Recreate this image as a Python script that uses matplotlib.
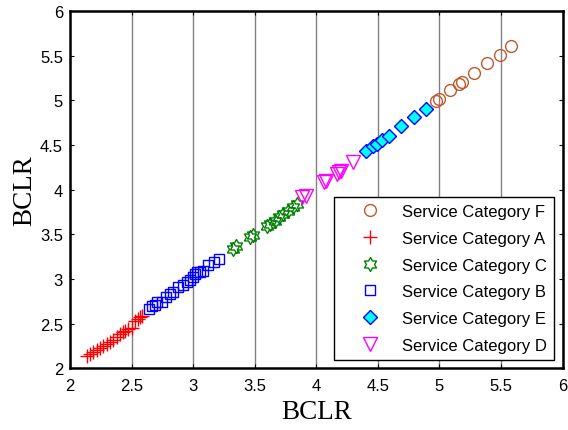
import matplotlib
matplotlib.use("Agg")
import matplotlib.pyplot as plt
import numpy as np
from matplotlib.path import Path

# ---- data ----
f_x = [4.976, 4.995, 5.09, 5.16, 5.187, 5.284, 5.39, 5.49, 5.585]
f_y = [4.997, 5.016, 5.116, 5.184, 5.209, 5.307, 5.419, 5.512, 5.606]

a_x = [2.135, 2.162, 2.189, 2.216, 2.243, 2.27, 2.298, 2.325, 2.351, 2.379,
       2.406, 2.433, 2.447, 2.474, 2.501, 2.528, 2.554, 2.568, 2.582]
a_y = [2.141, 2.16, 2.186, 2.208, 2.224, 2.253, 2.272, 2.291, 2.32, 2.347,
       2.384, 2.403, 2.421, 2.44, 2.448, 2.533, 2.552, 2.571, 2.589]

c_x = [3.321, 3.347, 3.461, 3.483, 3.596, 3.623, 3.664, 3.699, 3.731, 3.772, 3.812, 3.845]
c_y = [3.336, 3.366, 3.467, 3.493, 3.597, 3.616, 3.653, 3.691, 3.728, 3.765, 3.803, 3.84]

b_x = [2.644, 2.663, 2.69, 2.709, 2.744, 2.779, 2.812, 2.838, 2.879, 2.915,
       2.947, 2.974, 2.996, 3.015, 3.033, 3.055, 3.082, 3.122, 3.169, 3.212]
b_y = [2.664, 2.694, 2.709, 2.739, 2.746, 2.795, 2.832, 2.851, 2.907, 2.933,
       2.963, 2.992, 3.019, 3.056, 3.075, 3.082, 3.093, 3.157, 3.194, 3.224]

e_x = [4.408, 4.462, 4.494, 4.538, 4.592, 4.687, 4.792, 4.89]
e_y = [4.43, 4.486, 4.512, 4.557, 4.605, 4.717, 4.811, 4.904]

d_x = [3.881, 3.916, 4.062, 4.078, 4.165, 4.186, 4.205, 4.299]
d_y = [3.915, 3.926, 4.09, 4.101, 4.176, 4.195, 4.213, 4.307]

labels = ["Service Category F", "Service Category A", "Service Category C",
          "Service Category B", "Service Category E", "Service Category D"]
x_ticks = [2, 2.5, 3, 3.5, 4, 4.5, 5, 5.5, 6]
y_ticks = [2, 2.5, 3, 3.5, 4, 4.5, 5, 5.5, 6]
tick_labels = ["2", "2.5", "3", "3.5", "4", "4.5", "5", "5.5", "6"]

# hexagram marker
ang = np.deg2rad(90 + 30 * np.arange(12))
rad = np.where(np.arange(12) % 2 == 0, 1.0, 0.577)
verts = np.column_stack([rad * np.cos(ang), rad * np.sin(ang)])
verts = np.vstack([verts, verts[:1]])
codes = [Path.MOVETO] + [Path.LINETO] * 11 + [Path.CLOSEPOLY]
hexagram = Path(verts, codes)

sans = ["Liberation Sans", "DejaVu Sans"]
serif = ["Liberation Serif", "DejaVu Serif"]

fig = plt.figure(figsize=(5.68, 4.31), dpi=100)
ax = fig.add_axes([70 / 568, 1 - 369.3 / 431, 492.5 / 568, 357.3 / 431])

ax.plot(f_x, f_y, linestyle="none", marker="o", markersize=8.5,
        markerfacecolor="none", markeredgecolor="#BC5A2A", markeredgewidth=1.0, label=labels[0])
ax.plot(a_x, a_y, linestyle="none", marker="+", markersize=10,
        color="red", markeredgewidth=1.0, label=labels[1])
ax.plot(c_x, c_y, linestyle="none", marker=hexagram, markersize=10,
        markerfacecolor="none", markeredgecolor="#008000", markeredgewidth=1.0, label=labels[2])
ax.plot(b_x, b_y, linestyle="none", marker="s", markersize=7,
        markerfacecolor="none", markeredgecolor="blue", markeredgewidth=1.0, label=labels[3])
ax.plot(e_x, e_y, linestyle="none", marker="D", markersize=7.5,
        markerfacecolor="cyan", markeredgecolor="blue", markeredgewidth=1.0, label=labels[4])
ax.plot(d_x, d_y, linestyle="none", marker="v", markersize=10.5,
        markerfacecolor="none", markeredgecolor="magenta", markeredgewidth=1.0, label=labels[5])

ax.set_xlim(2, 6)
ax.set_ylim(2, 6)
ax.set_xticks(x_ticks)
ax.set_yticks(y_ticks)
ax.set_xticklabels(tick_labels, fontfamily=sans, fontsize=12)
ax.set_yticklabels(tick_labels, fontfamily=sans, fontsize=12)
ax.tick_params(direction="in", length=3, width=0.8, top=True, right=True, colors="black")
ax.tick_params(axis="x", pad=7)
ax.tick_params(axis="y", pad=5)
ax.xaxis.grid(True, color="#808080", linewidth=1.0)
ax.yaxis.grid(False)
ax.set_axisbelow(True)
for s in ax.spines.values():
    s.set_linewidth(1.8)
    s.set_color("black")

ax.set_xlabel("BCLR", fontfamily=serif, fontsize=19.5, labelpad=4)
ax.set_ylabel("BCLR", fontfamily=serif, fontsize=19.5, labelpad=2)

leg = ax.legend(loc="lower right", bbox_to_anchor=(0.983, 0.023), borderaxespad=0,
                numpoints=1, fancybox=False, shadow=False, framealpha=1,
                edgecolor="black", prop={"family": sans, "size": 12},
                borderpad=0.45, handlelength=3.4, handletextpad=0.2, labelspacing=0.7)
leg.get_frame().set_linewidth(1.0)

fig.savefig("out.png", dpi=100)
